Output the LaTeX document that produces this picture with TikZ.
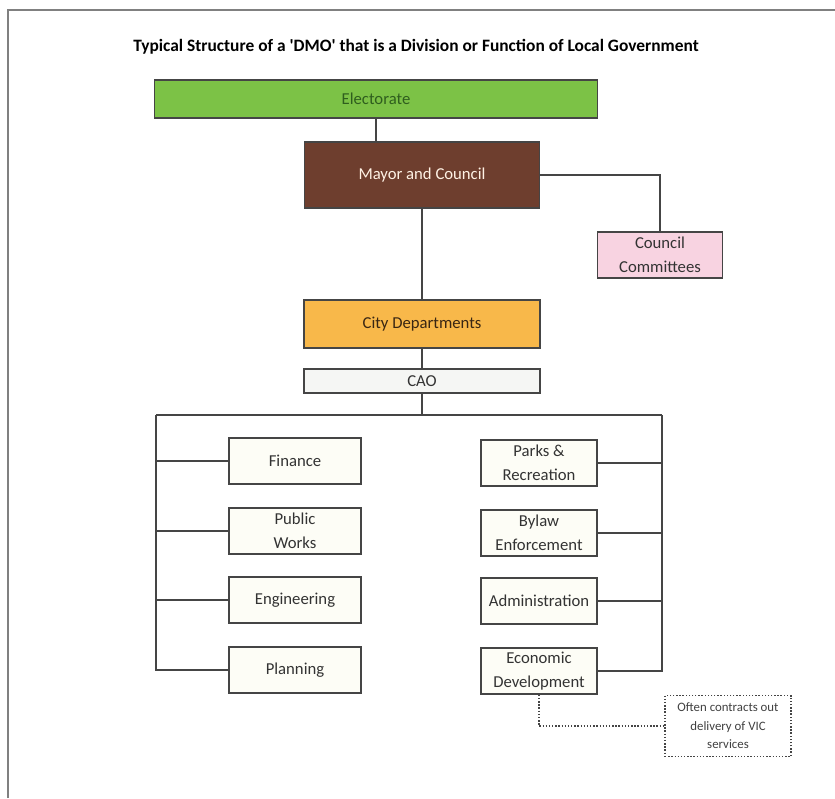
\documentclass[tikz,border=0pt]{standalone}
\usepackage{fontspec}
\setmainfont{Carlito}
\usetikzlibrary{positioning}

\definecolor{elecgreen}{HTML}{7CC246}
\definecolor{elecgreentext}{HTML}{2F5E1E}
\definecolor{mayorbrown}{HTML}{6E3E2E}
\definecolor{councilpink}{HTML}{F8D3E1}
\definecolor{deptorange}{HTML}{F8B84A}
\definecolor{caogray}{HTML}{F5F6F4}
\definecolor{unitfill}{HTML}{FDFDF6}
\definecolor{linegray}{HTML}{454545}

\tikzset{
    unitbox/.style={draw=linegray, line width=0.9pt, rectangle, align=center,
        font=\fontsize{9.5}{13.5}\selectfont, text=black!80, inner sep=1pt},
    leftunit/.style={unitbox, fill=unitfill, minimum width=2.64cm, minimum height=0.92cm},
    rightunit/.style={unitbox, fill=unitfill, minimum width=2.32cm, minimum height=0.92cm},
    link/.style={draw=linegray, line width=0.8pt},
}

\begin{document}
\begin{tikzpicture}[x=0.02cm, y=-0.02cm]

    \useasboundingbox (0,0) rectangle (835,798);

    % cornice
    \draw[gray, line width=0.8pt] (8,798) -- (8,10) -- (835,10);

    % titolo
    \node[font=\bfseries\fontsize{9.9}{12}\selectfont] (title) at (416,47)
        {Typical Structure of a \textquotesingle DMO\textquotesingle{} that is a Division or Function of Local Government};

    % livelli superiori
    \node[unitbox, fill=elecgreen, text=elecgreentext, minimum width=8.86cm, minimum height=0.76cm] (elect) at (376,99) {Electorate};
    \node[unitbox, fill=mayorbrown, text=white!90!orange, minimum width=4.7cm, minimum height=1.32cm] (mayor) at (422,175) {Mayor and Council};
    \node[unitbox, fill=councilpink, minimum width=2.5cm, minimum height=0.92cm] (council) at (660,255) {Council\\Committees};
    \node[unitbox, fill=deptorange, text=black!70!brown, minimum width=4.72cm, minimum height=0.96cm] (dept) at (422,324) {City Departments};
    \node[unitbox, fill=caogray, minimum width=4.72cm, minimum height=0.48cm] (cao) at (422,381) {CAO};

    % dipartimenti a sinistra
    \node[leftunit] (fin) at (295,461) {Finance};
    \node[leftunit] (pw) at (295,531) {Public\\Works};
    \node[leftunit] (eng) at (295,600) {Engineering};
    \node[leftunit] (plan) at (295,670) {Planning};

    % dipartimenti a destra
    \node[rightunit] (parks) at (539,463) {Parks \&\\Recreation};
    \node[rightunit] (bylaw) at (539,533) {Bylaw\\Enforcement};
    \node[rightunit] (admin) at (539,601) {Administration};
    \node[rightunit] (econ) at (539,671) {Economic\\Development};

    % nota
    \node[draw=linegray, densely dotted, line width=0.8pt, align=center, minimum width=2.52cm, minimum height=1.22cm,
        font=\fontsize{7.3}{10.6}\selectfont, text=black!75, inner sep=1pt] (note) at (728,726) {Often contracts out\\delivery of VIC\\services};

    % collegamenti
    \coordinate (brL) at (156,415);
    \coordinate (brR) at (662,415);
    \draw[link] (elect.south) -- (elect.south |- mayor.north);
    \draw[link] (mayor.east) -| (council.north);
    \draw[link] (mayor.south) -- (dept.north);
    \draw[link] (dept.south) -- (cao.north);
    \draw[link] (cao.south) -- (cao.south |- brL);
    \draw[link] (brL) -- (brR);
    \draw[link] (brL) |- (plan.west);
    \foreach \n in {fin,pw,eng}
        \draw[link] (brL |- \n.west) -- (\n.west);
    \draw[link] (brR) |- (econ.east);
    \foreach \n in {parks,bylaw,admin}
        \draw[link] (\n.east) -- (brR |- \n.east);
    \draw[link, densely dotted] (econ.south) |- (note.west);

\end{tikzpicture}
\end{document}
